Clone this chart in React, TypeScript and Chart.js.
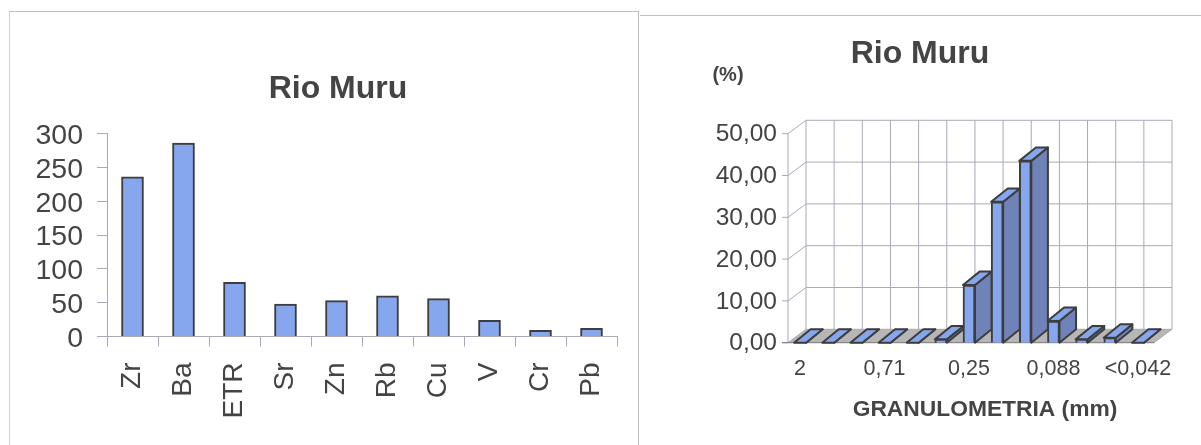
import React, { useEffect, useRef } from "react";
import { Chart, registerables } from "chart.js";

Chart.register(...registerables);

const elements = ["Zr", "Ba", "ETR", "Sr", "Zn", "Rb", "Cu", "V", "Cr", "Pb"];
const elementValues = [236, 286, 80, 48, 53, 60, 56, 24, 9, 12];
const sizeLabels = ["2", "", "", "0,71", "", "", "0,25", "", "", "0,088", "", "", "<0,042"];
const sizeValues = [0, 0, 0, 0, 0, 0.8, 13.8, 33.7, 43.5, 5.2, 0.8, 1.2, 0];
const chartTitle = "Rio Muru";
const percentLabel = "(%)";
const sizeAxisLabel = "GRANULOMETRIA (mm)";

const FONT = "'Liberation Sans', Arial, sans-serif";
const TEXT = "#444444";
const AXIS = "#a9aab6";
const BAR = "#86a6ee";
const BAR_SIDE = "#6f83b9";
const EDGE = "#3d3d3d";
const FLOOR = "#b6b6b6";
const DEPTH_X = 18;
const DEPTH_Y = 13.4;

const leftTitlePlugin = {
  id: "leftTitle",
  afterDraw(chart: any) {
    const { ctx } = chart;
    ctx.save();
    ctx.fillStyle = TEXT;
    ctx.textBaseline = "middle";
    ctx.textAlign = "center";
    ctx.font = `bold 32px ${FONT}`;
    ctx.fillText(chartTitle, 338, 89);
    ctx.restore();
  },
};

const depthPlugin = {
  id: "depth",
  beforeDatasetsDraw(chart: any) {
    const { ctx, chartArea, scales } = chart;
    const y = scales.y;
    const n = sizeLabels.length;
    const left = chartArea.left + 2;
    const step = (chartArea.right - chartArea.left) / n;
    const right = left + step * n;
    const base = y.getPixelForValue(0);
    const top = y.getPixelForValue(50);
    ctx.save();
    ctx.fillStyle = FLOOR;
    ctx.beginPath();
    ctx.moveTo(left, base);
    ctx.lineTo(right, base);
    ctx.lineTo(right + DEPTH_X, base - DEPTH_Y);
    ctx.lineTo(left + DEPTH_X, base - DEPTH_Y);
    ctx.closePath();
    ctx.fill();

    ctx.strokeStyle = AXIS;
    ctx.lineWidth = 1;
    ctx.beginPath();
    for (let i = 0; i <= n; i++) {
      const x = left + DEPTH_X + step * i;
      ctx.moveTo(x, top - DEPTH_Y);
      ctx.lineTo(x, base - DEPTH_Y);
    }
    y.ticks.forEach((t: any) => {
      const py = y.getPixelForValue(t.value);
      ctx.moveTo(left - 6, py);
      ctx.lineTo(left, py);
      ctx.lineTo(left + DEPTH_X, py - DEPTH_Y);
      ctx.lineTo(right + DEPTH_X, py - DEPTH_Y);
    });
    ctx.moveTo(left, top);
    ctx.lineTo(left, base);
    ctx.moveTo(right, base);
    ctx.lineTo(right + DEPTH_X, base - DEPTH_Y);
    ctx.stroke();

    ctx.strokeStyle = "#777";
    ctx.beginPath();
    ctx.moveTo(left - 6, base);
    ctx.lineTo(right, base);
    ctx.stroke();

    ctx.strokeStyle = EDGE;
    ctx.lineWidth = 2;
    ctx.lineJoin = "round";
    const bars = chart.getDatasetMeta(0).data;
    const dx = 16.6;
    const dy = 13.4;
    bars.forEach((bar: any) => {
      const x0 = bar.x - bar.width / 2;
      const x1 = bar.x + bar.width / 2;
      const yTop = bar.y;
      const yBase = bar.base;
      ctx.fillStyle = BAR_SIDE;
      ctx.beginPath();
      ctx.moveTo(x1, yTop);
      ctx.lineTo(x1 + dx, yTop - dy);
      ctx.lineTo(x1 + dx, yBase - dy);
      ctx.lineTo(x1, yBase);
      ctx.closePath();
      ctx.fill();
      ctx.stroke();
      ctx.fillStyle = BAR;
      ctx.beginPath();
      ctx.moveTo(x0, yTop);
      ctx.lineTo(x1, yTop);
      ctx.lineTo(x1 + dx, yTop - dy);
      ctx.lineTo(x0 + dx, yTop - dy);
      ctx.closePath();
      ctx.fill();
      ctx.stroke();
    });
    ctx.restore();
  },
  afterDraw(chart: any) {
    const { ctx } = chart;
    ctx.save();
    ctx.fillStyle = TEXT;
    ctx.textBaseline = "middle";
    ctx.textAlign = "center";
    ctx.font = `bold 20px ${FONT}`;
    ctx.fillText(percentLabel, 88, 75);
    ctx.font = `bold 22.8px ${FONT}`;
    ctx.fillText(sizeAxisLabel, 345, 410);
    ctx.restore();
  },
};

function useChart(make: (c: HTMLCanvasElement) => Chart) {
  const ref = useRef<HTMLCanvasElement | null>(null);
  useEffect(() => {
    const chart = make(ref.current as HTMLCanvasElement);
    return () => chart.destroy();
  }, []);
  return ref;
}

function makeLeft(canvas: HTMLCanvasElement) {
  return new Chart(canvas, {
    type: "bar",
    data: {
      labels: elements,
      datasets: [
        {
          data: elementValues,
          backgroundColor: BAR,
          borderColor: EDGE,
          borderWidth: 2,
          barThickness: 22,
        },
      ],
    },
    options: {
      responsive: false,
      animation: false,
      layout: { autoPadding: false, padding: { left: 0, right: 23, top: 133.5, bottom: 0 } },
      plugins: {
        legend: { display: false },
        tooltip: { enabled: false },
      },
      scales: {
        x: {
          afterFit: (s: any) => {
            s.height = 108.5;
            s.paddingLeft = 0;
            s.paddingRight = 0;
          },
          grid: { drawOnChartArea: false, color: AXIS, tickLength: 10, offset: true },
          border: { color: AXIS },
          ticks: {
            color: TEXT,
            autoSkip: false,
            minRotation: 90,
            maxRotation: 90,
            padding: 16,
            font: { family: FONT, size: 28 },
          },
        },
        y: {
          min: 0,
          max: 300,
          afterFit: (s: any) => {
            s.width = 107;
          },
          grid: { drawOnChartArea: false, color: AXIS, tickLength: 10 },
          border: { color: AXIS },
          ticks: {
            color: TEXT,
            autoSkip: false,
            stepSize: 50,
            padding: 14,
            labelOffset: 2.5,
            font: { family: FONT, size: 28.5 },
          },
        },
      },
    },
    plugins: [leftTitlePlugin],
  } as any);
}

function makeRight(canvas: HTMLCanvasElement) {
  return new Chart(canvas, {
    type: "bar",
    data: {
      labels: sizeLabels,
      datasets: [
        {
          data: sizeValues,
          backgroundColor: BAR,
          borderColor: EDGE,
          borderWidth: 2,
          barThickness: 12,
        },
      ],
    },
    options: {
      responsive: false,
      animation: false,
      layout: { autoPadding: false, padding: { left: 48, right: 49, top: 0, bottom: 0 } },
      plugins: {
        legend: { display: false },
        tooltip: { enabled: false },
        title: {
          display: true,
          text: chartTitle,
          color: TEXT,
          font: { family: FONT, size: 32, weight: "bold" },
          padding: { top: 35, bottom: 60.3 },
        },
      },
      scales: {
        x: {
          afterFit: (s: any) => {
            s.height = 102.3;
          },
          grid: { display: false, drawTicks: false },
          border: { display: false },
          ticks: {
            color: TEXT,
            autoSkip: false,
            maxRotation: 0,
            minRotation: 0,
            padding: 13,
            font: { family: FONT, size: 21.5 },
          },
        },
        y: {
          min: 0,
          max: 50,
          afterFit: (s: any) => {
            s.width = 98;
          },
          grid: { display: false, drawTicks: false },
          border: { display: false },
          ticks: {
            color: TEXT,
            stepSize: 10,
            padding: 9,
            labelOffset: 1,
            font: { family: FONT, size: 24.5 },
            callback: (v: any) => Number(v).toFixed(2).replace(".", ","),
          },
        },
      },
    },
    plugins: [depthPlugin],
  } as any);
}

const soft: React.CSSProperties = { position: "absolute", top: 0, filter: "blur(0.45px)" };

export default function App() {
  const leftRef = useChart(makeLeft);
  const rightRef = useChart(makeRight);
  return (
    <div style={{ position: "fixed", left: 0, top: 0, width: 1201, height: 445, background: "#fff", overflow: "hidden" }}>
      <div
        style={{
          position: "absolute",
          left: 9,
          top: 11,
          width: 628,
          height: 440,
          borderLeft: "1px solid #cfcfd4",
          borderTop: "1px solid #bdbdc2",
          borderRight: "1px solid #bdbdc2",
        }}
      />
      <div style={{ position: "absolute", left: 640, top: 15, width: 561, height: 1, background: "#bdbdc2" }} />
      <canvas ref={leftRef} width={640} height={445} style={{ ...soft, left: 0 }} />
      <canvas ref={rightRef} width={561} height={445} style={{ ...soft, left: 640 }} />
    </div>
  );
}
